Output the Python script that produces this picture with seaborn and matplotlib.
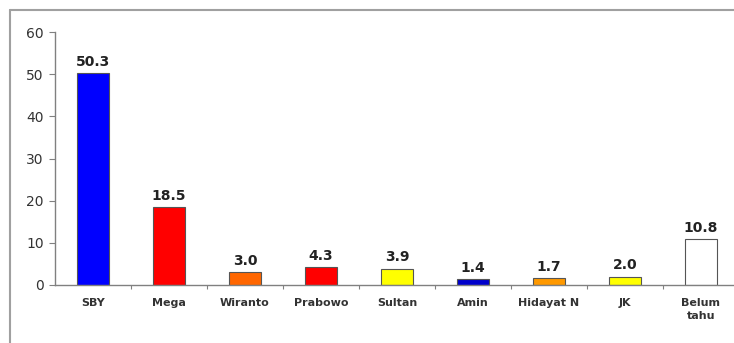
import matplotlib
matplotlib.use("Agg")
import matplotlib.pyplot as plt
from matplotlib.lines import Line2D
import seaborn as sns
import pandas as pd

candidates = ["SBY", "Mega", "Wiranto", "Prabowo", "Sultan", "Amin", "Hidayat N", "JK", "Belum\ntahu"]
shares = [50.3, 18.5, 3.0, 4.3, 3.9, 1.4, 1.7, 2.0, 10.8]
bar_colors = ["#0000FF", "#FF0000", "#FF6600", "#FF0000", "#FFFF00",
              "#0000CC", "#FF9900", "#FFFF00", "#FFFFFF"]
y_ticks = [0, 10, 20, 30, 40, 50, 60]

df = pd.DataFrame({"candidate": candidates, "share": shares})

sns.set_theme(style="white")
plt.rcParams["font.family"] = ["DejaVu Sans"]

fig = plt.figure(figsize=(7.34, 3.43), dpi=100)
ax = fig.add_axes([55 / 734, 58 / 343, 684 / 734, 253 / 343])

sns.barplot(data=df, x="candidate", y="share", hue="candidate",
            palette=bar_colors, legend=False, width=0.42, saturation=1,
            edgecolor="#555555", linewidth=0.8, ax=ax)

ax.set_xlim(-0.5, len(candidates) - 0.5)
ax.set_ylim(0, 60)
ax.set_yticks(y_ticks)
ax.set_yticklabels([str(t) for t in y_ticks], fontsize=10, color="#333333")
ax.set_xticks(range(len(candidates)))
ax.set_xticklabels(candidates, fontsize=8, fontweight="bold", color="#333333",
                   linespacing=1.4)
ax.set_xticks([i - 0.5 for i in range(1, len(candidates))], minor=True)
ax.tick_params(axis="x", which="major", length=0, pad=9)
ax.tick_params(axis="x", which="minor", length=3, width=0.8, color="#808080", direction="out", bottom=True)
ax.tick_params(axis="y", length=4, width=0.8, color="#808080", direction="out", left=True, pad=4)
ax.set_xlabel("")
ax.set_ylabel("")

for side in ("top", "right"):
    ax.spines[side].set_visible(False)
for side in ("left", "bottom"):
    ax.spines[side].set_color("#808080")
    ax.spines[side].set_linewidth(1.0)

for i, v in enumerate(shares):
    ax.annotate(f"{v:.1f}", (i, v), xytext=(0, 3), textcoords="offset points",
                ha="center", va="bottom", fontsize=10, fontweight="bold", color="#222222")

# outer frame around the chart area (top and left edges)
fig.add_artist(Line2D([10 / 734, 10 / 734], [0, 1 - 10 / 343], transform=fig.transFigure,
                      color="#A0A0A0", linewidth=1.5))
fig.add_artist(Line2D([10 / 734, 1], [1 - 10 / 343, 1 - 10 / 343], transform=fig.transFigure,
                      color="#A0A0A0", linewidth=1.5))

fig.savefig("out.png", dpi=100)
